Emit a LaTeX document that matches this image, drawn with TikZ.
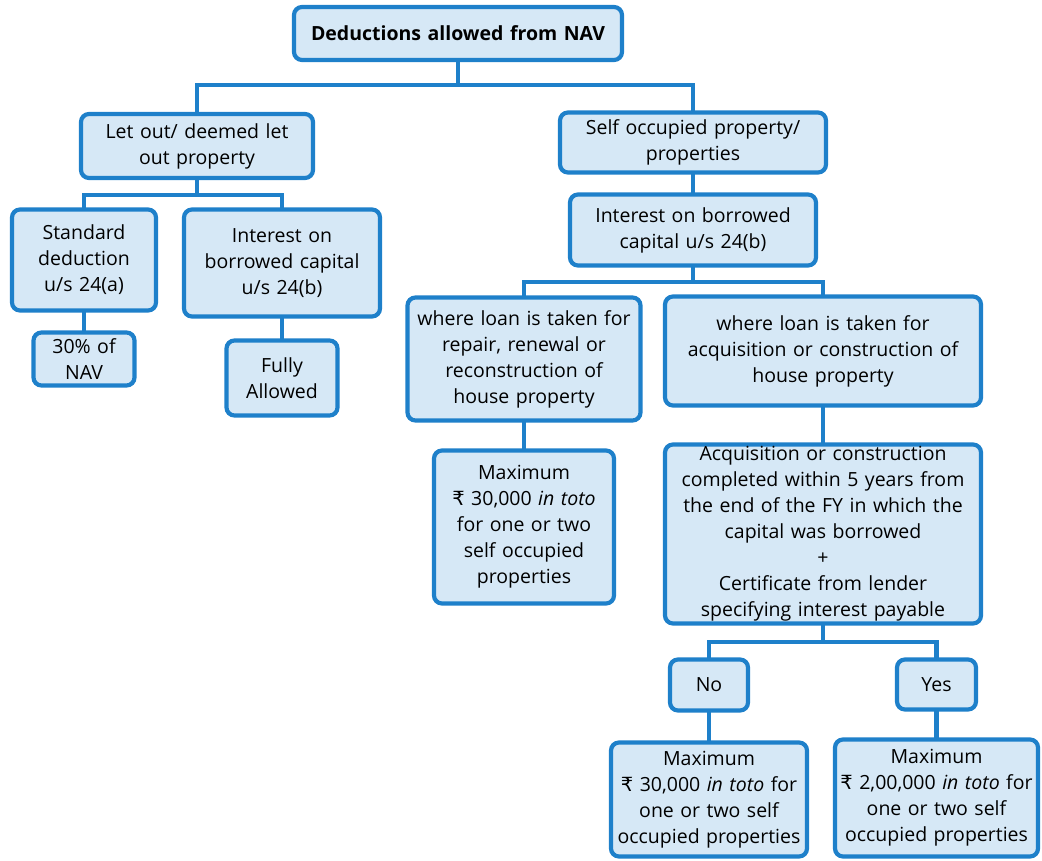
\documentclass[tikz,border=0pt]{standalone}
\usepackage{fontspec}
\setmainfont{Open Sans}
\newfontfamily\rupfont{DejaVu Sans}
\newcommand{\rup}{{\rupfont ₹}}
\definecolor{bord}{RGB}{30,128,202}
\definecolor{boxfill}{RGB}{214,232,246}
\tikzset{
  bx/.style={draw=bord, fill=boxfill, line width=4.2pt, rounded corners=8pt,
    inner sep=0pt, outer sep=0pt, align=center,
    font=\fontsize{19.5}{26}\selectfont},
  conn/.style={draw=bord, line width=4.2pt}
}
\begin{document}
\begin{tikzpicture}[x=1pt,y=-1pt]
\useasboundingbox (0,0) rectangle (1042,861);
\newcommand{\bxnode}[7]{% name, cx, cy, w, h, text
  \node[bx, minimum width=#4pt-4pt, minimum height=#5pt-4pt, text width=#4pt-6pt, #7] (#1) at (#2,#3) {#6};}
\bxnode{root}{458}{33.5}{332}{57}{\textbf{Deductions allowed from NAV}}{}
\bxnode{letout}{197}{146}{236}{68}{Let out/ deemed let\\out property}{}
\bxnode{self}{693}{142.5}{270}{64}{Self occupied property/\\properties}{}
\bxnode{std}{84}{260}{148}{105}{Standard\\deduction\\u/s 24(a)}{}
\bxnode{intL}{282}{263}{200}{111}{Interest on\\borrowed capital\\u/s 24(b)}{}
\bxnode{nav}{84}{359}{105}{57}{30\% of\\NAV}{}
\bxnode{fully}{282}{378}{115}{79}{Fully\\Allowed}{}
\bxnode{intR}{693}{230}{250}{75}{Interest on borrowed\\capital u/s 24(b)}{}
\bxnode{repair}{524}{359}{237}{127}{where loan is taken for\\repair, renewal or\\reconstruction of\\house property}{}
\bxnode{acq}{823}{351}{320}{113}{where loan is taken for\\acquisition or construction of\\house property}{}
\bxnode{max1}{524}{527}{184}{157}{Maximum\\\rup\ 30,000 \textit{in toto}\\for one or two\\self occupied\\properties}{}
\bxnode{cond}{823}{534}{320}{183}{Acquisition or construction\\completed within 5 years from\\the end of the FY in which the\\capital was borrowed\\+\\Certificate from lender\\specifying interest payable}{}
\bxnode{no}{709}{685}{82}{55}{No}{}
\bxnode{yes}{936.5}{684.5}{83}{54}{Yes}{}
\bxnode{max2}{709}{799.5}{200}{118}{Maximum\\\rup\ 30,000 \textit{in toto} for\\one or two self\\occupied properties}{}
\bxnode{max3}{936.5}{798}{207}{121}{Maximum\\\rup\ 2,00,000 \textit{in toto} for\\one or two self\\occupied properties}{}
\coordinate (busA) at (0,85);
\coordinate (busB) at (0,195);
\coordinate (busC) at (0,282);
\coordinate (busD) at (0,642);
\draw[conn] (root.south) -- (root.south |- busA);
\draw[conn] (letout.north) -- (letout.north |- busA) -- (self.north |- busA) -- (self.north);
\draw[conn] (letout.south) -- (letout.south |- busB);
\draw[conn] (std.north) -- (std.north |- busB) -- (intL.north |- busB) -- (intL.north);
\draw[conn] (std.south) -- (nav.north);
\draw[conn] (intL.south) -- (fully.north);
\draw[conn] (self.south) -- (intR.north);
\draw[conn] (intR.south) -- (intR.south |- busC);
\draw[conn] (repair.north) -- (repair.north |- busC) -- (acq.north |- busC) -- (acq.north);
\draw[conn] (repair.south) -- (max1.north);
\draw[conn] (acq.south) -- (cond.north);
\draw[conn] (cond.south) -- (cond.south |- busD);
\draw[conn] (no.north) -- (no.north |- busD) -- (yes.north |- busD) -- (yes.north);
\draw[conn] (no.south) -- (max2.north);
\draw[conn] (yes.south) -- (max3.north);
\end{tikzpicture}
\end{document}
